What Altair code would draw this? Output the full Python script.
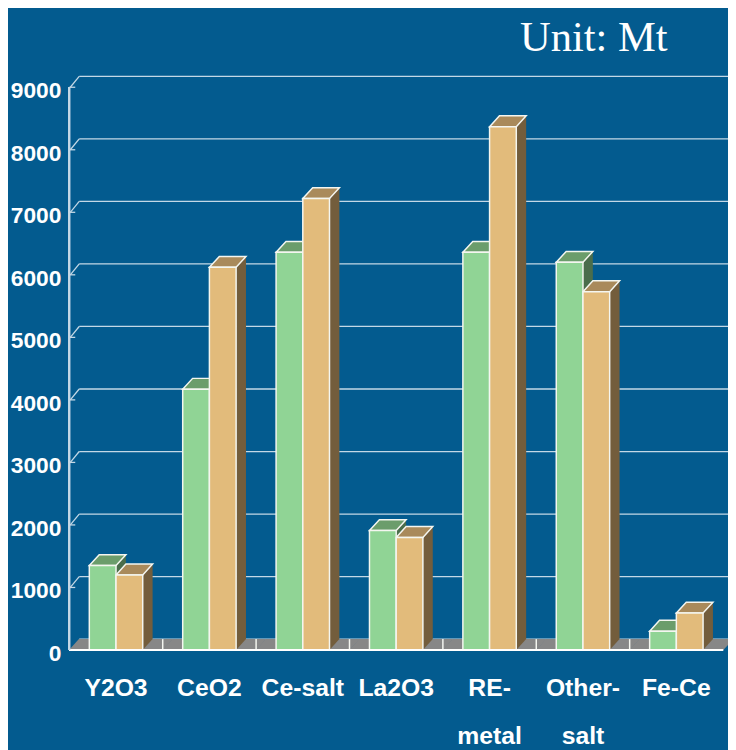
import altair as alt
import pandas as pd

# ---- data ----
categories = ["Y2O3", "CeO2", "Ce-salt", "La2O3", "RE-\nmetal", "Other-\nsalt", "Fe-Ce"]
series_green = [1350, 4170, 6360, 1910, 6360, 6200, 300]
series_orange = [1200, 6120, 7220, 1800, 8370, 5730, 590]
y_ticks = [0, 1000, 2000, 3000, 4000, 5000, 6000, 7000, 8000, 9000]
unit_text = ["Unit: Mt"]

# ---- styling ----
W, H = 661, 569
BAR = 27
DX, DY = 10, 11
STEP = W / len(categories)
BG = "#035b8f"
GRID = "#c4d8e6"
EDGE = "#f4f6f0"
FLOOR = "#878787"
G_FRONT, G_TOP, G_SIDE = "#90d495", "#6b9d6b", "#4a6d4b"
O_FRONT, O_TOP, O_SIDE = "#e2bb7b", "#a98a5b", "#735d3c"
FONT = "Liberation Sans"

df = pd.DataFrame({
    "cat": categories * 2,
    "series": ["green"] * len(categories) + ["orange"] * len(categories),
    "value": series_green + series_orange,
})
ticks_df = pd.DataFrame({"v": y_ticks})
ticks_nz = pd.DataFrame({"v": y_ticks[1:]})
cats_df = pd.DataFrame({"cat": categories})

y_scale = alt.Scale(domain=[0, 9000], nice=False, zero=True)
x_scale = alt.Scale(paddingInner=0, paddingOuter=0)

def X():
    return alt.X("cat:N", sort=categories, scale=x_scale, axis=None)

def Yv():
    return alt.Y("value:Q", scale=y_scale, axis=None)

def Y0():
    return alt.YDatum(0, scale=y_scale, axis=None)

base = alt.Chart(df)
green = base.transform_filter("datum.series == 'green'")
orange = base.transform_filter("datum.series == 'orange'")

# back-wall gridlines
grid = alt.Chart(ticks_df).mark_rule(
    stroke=GRID, strokeWidth=1.3, yOffset=-DY, y2Offset=-DY
).encode(
    y=alt.Y("v:Q", scale=y_scale, axis=None), y2="v:Q",
    x=alt.value(DX), x2=alt.value(W + 5),
)
# diagonal connectors + small front ticks
diag = alt.Chart(ticks_nz).mark_rule(
    stroke=GRID, strokeWidth=1.3, y2Offset=-DY
).encode(
    y=alt.Y("v:Q", scale=y_scale, axis=None), y2="v:Q",
    x=alt.value(1), x2=alt.value(DX),
)
fticks = alt.Chart(ticks_nz).mark_rule(stroke=GRID, strokeWidth=1.3).encode(
    y=alt.Y("v:Q", scale=y_scale, axis=None), x=alt.value(0), x2=alt.value(6),
)
# y axis line and labels
y_domain = alt.Chart(ticks_df).mark_rule(stroke=GRID, strokeWidth=1.5).encode(
    x=alt.value(0), y=alt.YDatum(0, scale=y_scale, axis=None), y2=alt.datum(9000),
)
y_labels = alt.Chart(ticks_df).mark_text(
    font=FONT, fontSize=23, fontWeight="bold", color="white",
    align="right", baseline="middle", dx=-8, dy=4,
).encode(y=alt.Y("v:Q", scale=y_scale, axis=None), x=alt.value(0), text="v:Q")

# floor
half = STEP / 2 + 0.3
floor_path = f"M{-half},0L{half},0L{half + DX},{-DY}L{-half + DX},{-DY}Z"
floor = alt.Chart(cats_df).mark_point(
    shape=floor_path, size=4, filled=True, fill=FLOOR, opacity=1, strokeWidth=0
).encode(x=X(), y=Y0())
dividers = alt.Chart(cats_df).transform_filter(
    f"datum.cat != '{categories[0]}'"
).mark_rule(
    stroke=EDGE, strokeWidth=1.5, xOffset=-STEP / 2, y2Offset=-DY
).encode(x=X(), y=Y0(), y2=alt.datum(0))
x_domain = alt.Chart(cats_df).mark_rule(stroke="white", strokeWidth=2).encode(
    y=Y0(), x=alt.value(0), x2=alt.value(W),
)
x_labels = alt.Chart(cats_df).mark_text(
    font=FONT, fontSize=25, fontWeight="bold", color="white",
    align="center", baseline="alphabetic", lineBreak="\n", lineHeight=48, dy=47,
).encode(x=X(), y=Y0(), text="cat:N")

# side faces
side_g = green.mark_bar(width=DX, xOffset=DX / 2, yOffset=-DY, y2Offset=-DY,
                        fill=G_SIDE, strokeWidth=0).encode(x=X(), y=Yv())
side_o = orange.mark_bar(width=DX, xOffset=BAR + DX / 2, yOffset=-DY, y2Offset=-DY,
                         fill=O_SIDE, strokeWidth=0).encode(x=X(), y=Yv())
tri_path = f"M0,0L0,{-DY}L{DX},{-DY}Z"
tri_g = green.mark_point(shape=tri_path, size=4, filled=True, fill=G_SIDE, opacity=1,
                         strokeWidth=0, xOffset=0).encode(x=X(), y=Y0())
tri_o = orange.mark_point(shape=tri_path, size=4, filled=True, fill=O_SIDE, opacity=1,
                          strokeWidth=0, xOffset=BAR).encode(x=X(), y=Y0())

# top faces
hb = BAR / 2
top_path = f"M{-hb},0L{hb},0L{hb + DX},{-DY}L{-hb + DX},{-DY}Z"
top_g = green.mark_point(shape=top_path, size=4, filled=True, fill=G_TOP, opacity=1,
                         stroke=EDGE, strokeWidth=1.5, xOffset=-hb).encode(x=X(), y=Yv())
top_o = orange.mark_point(shape=top_path, size=4, filled=True, fill=O_TOP, opacity=1,
                          stroke=EDGE, strokeWidth=1.5, xOffset=hb).encode(x=X(), y=Yv())

# front faces
front_g = green.mark_bar(width=BAR, xOffset=-hb, fill=G_FRONT, stroke=EDGE,
                         strokeWidth=1.5).encode(x=X(), y=Yv())
front_o = orange.mark_bar(width=BAR, xOffset=hb, fill=O_FRONT, stroke=EDGE,
                          strokeWidth=1.5).encode(x=X(), y=Yv())

unit = alt.Chart(pd.DataFrame({"t": unit_text})).mark_text(
    font="Liberation Serif", fontSize=43, color="white",
    align="right", baseline="alphabetic",
).encode(text="t:N", x=alt.value(605), y=alt.value(-37))

chart = alt.layer(
    grid, diag, fticks, floor, dividers,
    side_g, side_o, tri_g, tri_o, top_g, top_o, front_g, front_o,
    x_domain, y_domain, y_labels, x_labels, unit,
).properties(
    width=W, height=H, background=BG,
    padding={"left": 62, "top": 76, "right": 5, "bottom": 97},
    autosize=alt.AutoSizeParams(type="none"),
).configure_view(stroke=None)

chart.save("out.html", embed_options={"renderer": "svg", "actions": False})
